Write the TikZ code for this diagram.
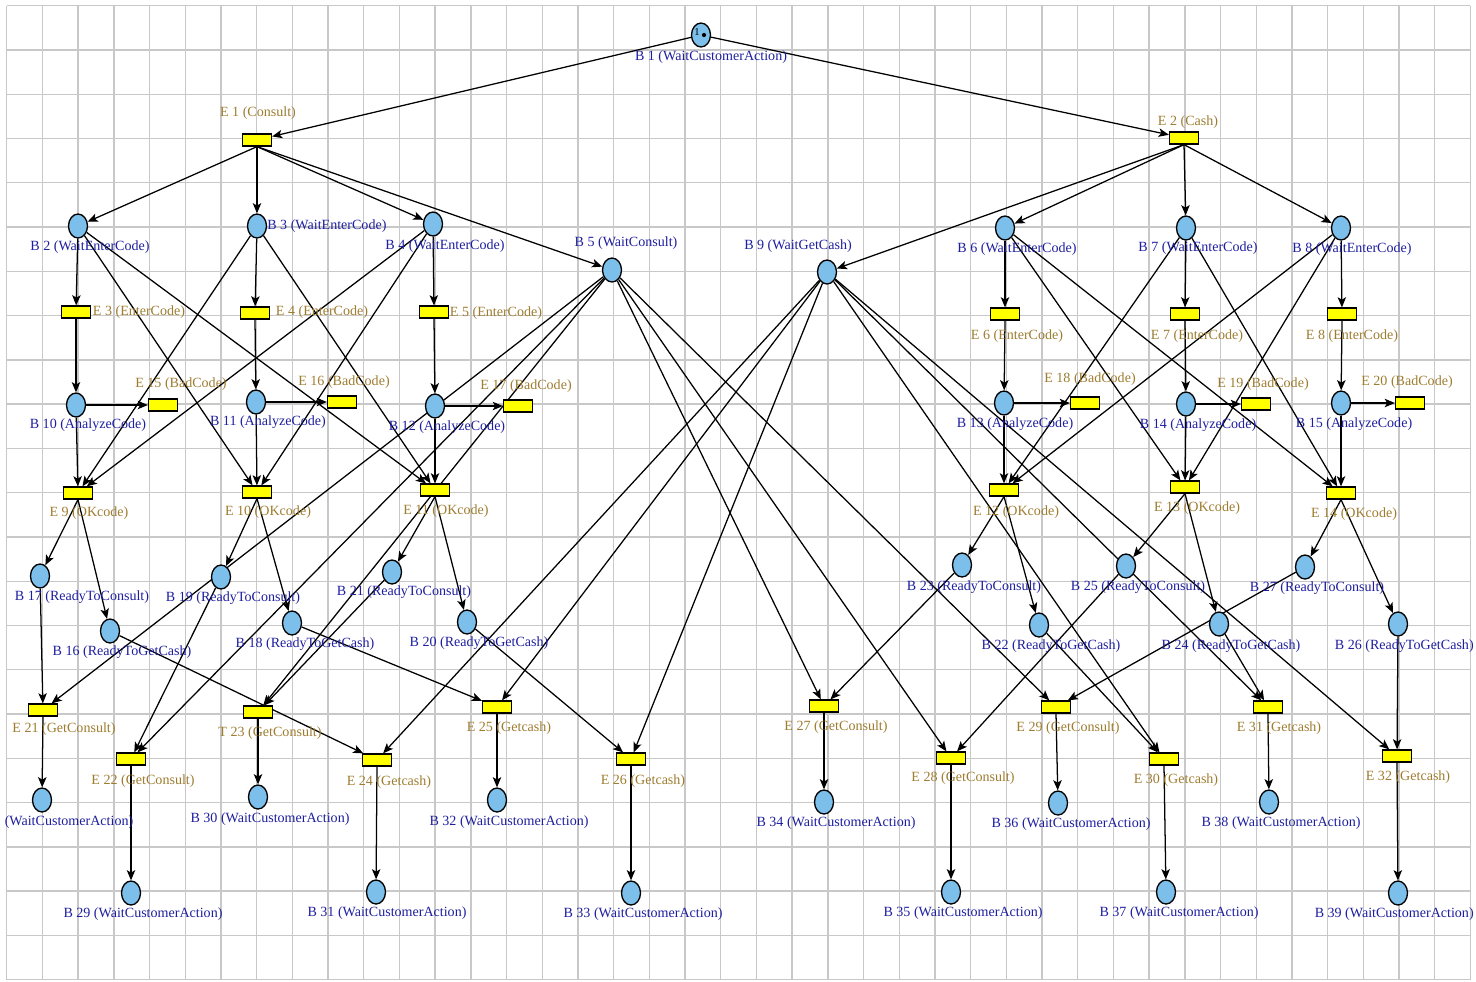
\documentclass[tikz,border=0pt]{standalone}
\usepackage{fontspec}
\setmainfont{Liberation Serif}
\usetikzlibrary{shapes.geometric,arrows.meta}
\pgfdeclarelayer{gridlayer}
\pgfdeclarelayer{arclayer}
\pgfsetlayers{gridlayer,arclayer,main}

\begin{document}
\begin{tikzpicture}[x=0.02cm, y=-0.02cm,
  place/.style={ellipse, draw, line width=0.75pt, fill=placecol, minimum width=0.38cm, minimum height=0.48cm, inner sep=0pt},
  trans/.style={rectangle, draw, line width=0.7pt, fill=transcol, minimum width=0.58cm, minimum height=0.24cm, inner sep=0pt},
  plbl/.style={text=plblcol, font=\fontsize{8}{9}\selectfont, inner sep=0pt},
  tlbl/.style={text=tlblcol, font=\fontsize{8}{9}\selectfont, inner sep=0pt},
  arc/.style={line width=0.72pt, -{Stealth[length=5.8pt,width=4.8pt,inset=1.4pt]}},
  gridline/.style={draw=gridcol, line width=0.8pt}]
\definecolor{placecol}{HTML}{7CBFEA}
\definecolor{transcol}{HTML}{FFFF00}
\definecolor{plblcol}{HTML}{1E1EA0}
\definecolor{tlblcol}{HTML}{9E7C30}
\definecolor{gridcol}{HTML}{C8C8C8}
\useasboundingbox (0,0) rectangle (1476,981);

% grid
\begin{pgfonlayer}{gridlayer}
\foreach \i in {0,...,41} \draw[gridline] ({6.7+35.7*\i},5.7) -- ({6.7+35.7*\i},979.6);
\foreach \j in {0,...,22} \draw[gridline] (6.7,{5.7+44.27*\j}) -- (1470.4,{5.7+44.27*\j});
\end{pgfonlayer}

% places
\node[place] (B1) at (701,35) {};
\node[font=\fontsize{6}{6}\selectfont, inner sep=0pt] (tok1) at (697,32) {1};
\fill (704,35) circle (1.2pt);
\node[place] (B2) at (78,226) {};
\node[place] (B3) at (257,226) {};
\node[place] (B4) at (433,224) {};
\node[place] (B5) at (612,270) {};
\node[place] (B9) at (827,272) {};
\node[place] (B6) at (1005,228) {};
\node[place] (B7) at (1186,228) {};
\node[place] (B8) at (1341,228) {};
\node[place] (B10) at (76,405) {};
\node[place] (B11) at (256,402) {};
\node[place] (B12) at (435,406) {};
\node[place] (B13) at (1004,403) {};
\node[place] (B14) at (1186,404) {};
\node[place] (B15) at (1341,403) {};
\node[place] (B17) at (40,576) {};
\node[place] (B19) at (221,577) {};
\node[place] (B21) at (392,572) {};
\node[place] (B23) at (962,565) {};
\node[place] (B25) at (1126,566) {};
\node[place] (B27) at (1305,567) {};
\node[place] (B16) at (110,631) {};
\node[place] (B18) at (292,623) {};
\node[place] (B20) at (467,622) {};
\node[place] (B22) at (1039,625) {};
\node[place] (B24) at (1219,624) {};
\node[place] (B26) at (1398,624) {};
\node[place] (B28) at (42,800) {};
\node[place] (B30) at (258,797) {};
\node[place] (B32) at (497,800) {};
\node[place] (B34) at (824,802) {};
\node[place] (B36) at (1058,803) {};
\node[place] (B38) at (1269,802) {};
\node[place] (B29) at (131,893) {};
\node[place] (B31) at (376,892) {};
\node[place] (B33) at (631,893) {};
\node[place] (B35) at (951,892) {};
\node[place] (B37) at (1166,892) {};
\node[place] (B39) at (1398,893) {};

% transitions
\node[trans] (E1) at (257,140) {};
\node[trans] (E2) at (1184,138) {};
\node[trans] (E3) at (76,312) {};
\node[trans] (E4) at (255,313) {};
\node[trans] (E5) at (434,312) {};
\node[trans] (E6) at (1005,314) {};
\node[trans] (E7) at (1185,314) {};
\node[trans] (E8) at (1342,314) {};
\node[trans] (E15) at (163,405) {};
\node[trans] (E16) at (342,402) {};
\node[trans] (E17) at (518,406) {};
\node[trans] (E18) at (1085,403) {};
\node[trans] (E19) at (1256,404) {};
\node[trans] (E20) at (1410,403) {};
\node[trans] (E9) at (78,493) {};
\node[trans] (E10) at (257,492) {};
\node[trans] (E11) at (435,490) {};
\node[trans] (E12) at (1004,490) {};
\node[trans] (E13) at (1185,487) {};
\node[trans] (E14) at (1341,493) {};
\node[trans] (E21) at (43,710) {};
\node[trans] (E22) at (131,759) {};
\node[trans] (T23) at (258,712) {};
\node[trans] (E24) at (377,760) {};
\node[trans] (E25) at (497,707) {};
\node[trans] (E26) at (631,759) {};
\node[trans] (E27) at (824,706) {};
\node[trans] (E28) at (951,758) {};
\node[trans] (E29) at (1056,707) {};
\node[trans] (E30) at (1164,759) {};
\node[trans] (E31) at (1268,707) {};
\node[trans] (E32) at (1397,756) {};

% place labels
\node[plbl] (lB1) at (711,57) {B 1 (WaitCustomerAction)};
\node[plbl] (lB2) at (90,247) {B 2 (WaitEnterCode)};
\node[plbl, anchor=west] (lB3) at (267,226) {B 3 (WaitEnterCode)};
\node[plbl] (lB4) at (445,246) {B 4 (WaitEnterCode)};
\node[plbl] (lB5) at (626,243) {B 5 (WaitConsult)};
\node[plbl] (lB9) at (798,246) {B 9 (WaitGetCash)};
\node[plbl] (lB6) at (1017,249) {B 6 (WaitEnterCode)};
\node[plbl] (lB7) at (1198,248) {B 7 (WaitEnterCode)};
\node[plbl] (lB8) at (1352,249) {B 8 (WaitEnterCode)};
\node[plbl] (lB10) at (88,425) {B 10 (AnalyzeCode)};
\node[plbl] (lB11) at (268,422) {B 11 (AnalyzeCode)};
\node[plbl] (lB12) at (447,427) {B 12 (AnalyzeCode)};
\node[plbl] (lB13) at (1015,424) {B 13 (AnalyzeCode)};
\node[plbl] (lB14) at (1198,425) {B 14 (AnalyzeCode)};
\node[plbl] (lB15) at (1354,424) {B 15 (AnalyzeCode)};
\node[plbl] (lB17) at (82,597) {B 17 (ReadyToConsult)};
\node[plbl] (lB19) at (233,598) {B 19 (ReadyToConsult)};
\node[plbl] (lB21) at (404,592) {B 21 (ReadyToConsult)};
\node[plbl] (lB23) at (974,587) {B 23 (ReadyToConsult)};
\node[plbl] (lB25) at (1138,587) {B 25 (ReadyToConsult)};
\node[plbl] (lB27) at (1317,588) {B 27 (ReadyToConsult)};
\node[plbl] (lB16) at (122,652) {B 16 (ReadyToGetCash)};
\node[plbl] (lB18) at (305,644) {B 18 (ReadyToGetCash)};
\node[plbl] (lB20) at (479,643) {B 20 (ReadyToGetCash)};
\node[plbl] (lB22) at (1051,646) {B 22 (ReadyToGetCash)};
\node[plbl] (lB24) at (1231,646) {B 24 (ReadyToGetCash)};
\node[plbl, anchor=east] (lB26) at (1474,646) {B 26 (ReadyToGetCash)};
\node[plbl] (lB28) at (69,822) {(WaitCustomerAction)};
\node[plbl] (lB30) at (270,819) {B 30 (WaitCustomerAction)};
\node[plbl] (lB32) at (509,822) {B 32 (WaitCustomerAction)};
\node[plbl] (lB34) at (836,823) {B 34 (WaitCustomerAction)};
\node[plbl] (lB36) at (1071,824) {B 36 (WaitCustomerAction)};
\node[plbl] (lB38) at (1281,823) {B 38 (WaitCustomerAction)};
\node[plbl] (lB29) at (143,914) {B 29 (WaitCustomerAction)};
\node[plbl] (lB31) at (387,913) {B 31 (WaitCustomerAction)};
\node[plbl] (lB33) at (643,914) {B 33 (WaitCustomerAction)};
\node[plbl] (lB35) at (963,913) {B 35 (WaitCustomerAction)};
\node[plbl] (lB37) at (1179,913) {B 37 (WaitCustomerAction)};
\node[plbl, anchor=east] (lB39) at (1474,914) {B 39 (WaitCustomerAction)};

% transition labels
\node[tlbl] (lE1) at (258,113) {E 1 (Consult)};
\node[tlbl] (lE2) at (1188,122) {E 2 (Cash)};
\node[tlbl] (lE3) at (139,312) {E 3 (EnterCode)};
\node[tlbl] (lE4) at (322,312) {E 4 (EnterCode)};
\node[tlbl] (lE5) at (496,313) {E 5 (EnterCode)};
\node[tlbl] (lE6) at (1017,336) {E 6 (EnterCode)};
\node[tlbl] (lE7) at (1197,336) {E 7 (EnterCode)};
\node[tlbl] (lE8) at (1352,336) {E 8 (EnterCode)};
\node[tlbl] (lE15) at (181,384) {E 15 (BadCode)};
\node[tlbl] (lE16) at (344,382) {E 16 (BadCode)};
\node[tlbl] (lE17) at (526,386) {E 17 (BadCode)};
\node[tlbl] (lE18) at (1090,379) {E 18 (BadCode)};
\node[tlbl] (lE19) at (1263,384) {E 19 (BadCode)};
\node[tlbl] (lE20) at (1407,382) {E 20 (BadCode)};
\node[tlbl] (lE9) at (89,513) {E 9 (OKcode)};
\node[tlbl] (lE10) at (268,512) {E 10 (OKcode)};
\node[tlbl] (lE11) at (446,511) {E 11 (OKcode)};
\node[tlbl] (lE12) at (1016,512) {E 12 (OKcode)};
\node[tlbl] (lE13) at (1197,508) {E 13 (OKcode)};
\node[tlbl] (lE14) at (1354,514) {E 14 (OKcode)};
\node[tlbl] (lE21) at (64,729) {E 21 (GetConsult)};
\node[tlbl] (lE22) at (143,781) {E 22 (GetConsult)};
\node[tlbl] (lT23) at (270,733) {T 23 (GetConsult)};
\node[tlbl] (lE24) at (389,782) {E 24 (Getcash)};
\node[tlbl] (lE25) at (509,728) {E 25 (Getcash)};
\node[tlbl] (lE26) at (643,781) {E 26 (Getcash)};
\node[tlbl] (lE27) at (836,727) {E 27 (GetConsult)};
\node[tlbl] (lE28) at (963,778) {E 28 (GetConsult)};
\node[tlbl] (lE29) at (1068,728) {E 29 (GetConsult)};
\node[tlbl] (lE30) at (1176,780) {E 30 (Getcash)};
\node[tlbl] (lE31) at (1279,728) {E 31 (Getcash)};
\node[tlbl] (lE32) at (1408,777) {E 32 (Getcash)};

% arcs
\begin{pgfonlayer}{arclayer}
\path (B1) edge[arc] (E1) edge[arc] (E2);
\path (E1.south) edge[arc] (B2) edge[arc] (B3) edge[arc] (B4) edge[arc] (B5);
\path (E2.south) edge[arc] (B6) edge[arc] (B7) edge[arc] (B8) edge[arc] (B9);
\path (B2) edge[arc] (E3) edge[arc] (E10) edge[arc] (E11);
\path (B3) edge[arc] (E4) edge[arc] (E9) edge[arc] (E11);
\path (B4) edge[arc] (E5) edge[arc] (E9) edge[arc] (E10);
\path (B6) edge[arc] (E6) edge[arc] (E13) edge[arc] (E14);
\path (B7) edge[arc] (E7) edge[arc] (E12) edge[arc] (E14);
\path (B8) edge[arc] (E8) edge[arc] (E12) edge[arc] (E13);
\path (E3.south) edge[arc] (B10);
\path (E4.south) edge[arc] (B11);
\path (E5.south) edge[arc] (B12);
\path (E6.south) edge[arc] (B13);
\path (E7.south) edge[arc] (B14);
\path (E8.south) edge[arc] (B15);
\path (B10) edge[arc] (E15) edge[arc] (E9);
\path (B11) edge[arc] (E16) edge[arc] (E10);
\path (B12) edge[arc] (E17) edge[arc] (E11);
\path (B13) edge[arc] (E18) edge[arc] (E12);
\path (B14) edge[arc] (E19) edge[arc] (E13);
\path (B15) edge[arc] (E20) edge[arc] (E14);
\path (E9.south) edge[arc] (B17) edge[arc] (B16);
\path (E10.south) edge[arc] (B19) edge[arc] (B18);
\path (E11.south) edge[arc] (B21) edge[arc] (B20);
\path (E12.south) edge[arc] (B23) edge[arc] (B22);
\path (E13.south) edge[arc] (B25) edge[arc] (B24);
\path (E14.south) edge[arc] (B27) edge[arc] (B26);
\path (B5) edge[arc] (E21) edge[arc] (E22) edge[arc] (T23) edge[arc] (E27) edge[arc] (E28) edge[arc] (E29);
\path (B9) edge[arc] (E24) edge[arc] (E25) edge[arc] (E26) edge[arc] (E30) edge[arc] (E31) edge[arc] (E32);
\path (B17) edge[arc] (E21);
\path (B19) edge[arc] (E22);
\path (B21) edge[arc] (T23);
\path (B16) edge[arc] (E24);
\path (B18) edge[arc] (E25);
\path (B20) edge[arc] (E26);
\path (B23) edge[arc] (E27);
\path (B25) edge[arc] (E28);
\path (B27) edge[arc] (E29);
\path (B22) edge[arc] (E30);
\path (B24) edge[arc] (E31);
\path (B26) edge[arc] (E32);
\path (E21.south) edge[arc] (B28);
\path (E22.south) edge[arc] (B29);
\path (T23.south) edge[arc] (B30);
\path (E24.south) edge[arc] (B31);
\path (E25.south) edge[arc] (B32);
\path (E26.south) edge[arc] (B33);
\path (E27.south) edge[arc] (B34);
\path (E28.south) edge[arc] (B35);
\path (E29.south) edge[arc] (B36);
\path (E30.south) edge[arc] (B37);
\path (E31.south) edge[arc] (B38);
\path (E32.south) edge[arc] (B39);
\end{pgfonlayer}
\end{tikzpicture}
\end{document}
